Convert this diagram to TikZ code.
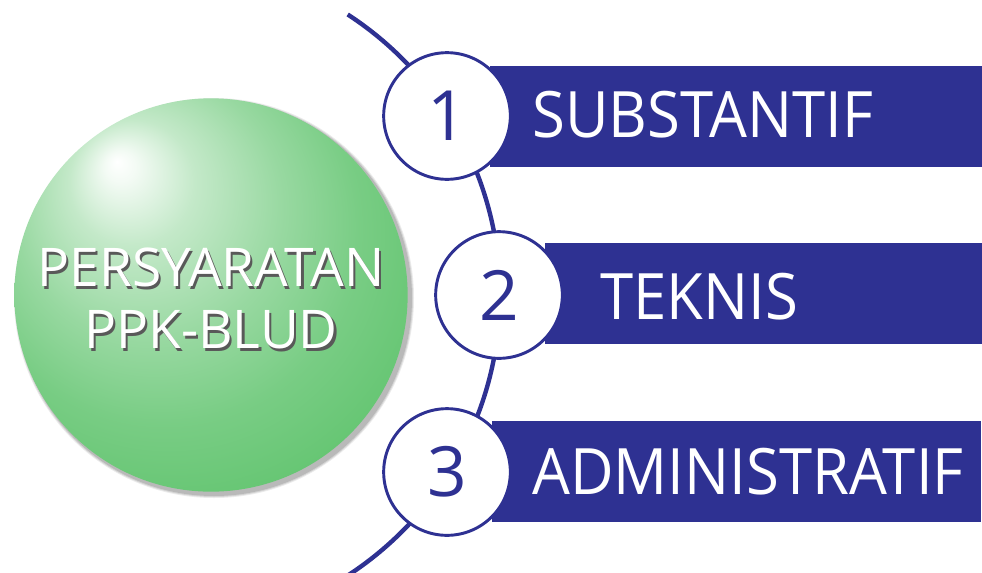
\documentclass[tikz,border=0pt]{standalone}
\usepackage{fontspec}
\setmainfont{Open Sans}
\newfontfamily\barfont[FakeStretch=0.935]{Open Sans}
\usepackage{tikz}
\usetikzlibrary{shadows}

\definecolor{bludblue}{HTML}{2E3192}
\definecolor{bludgreen}{HTML}{39B54A}
\pgfdeclareradialshading{greenball}{\pgfpoint{-12bp}{17bp}}{%
  color(0bp)=(white); color(2bp)=(bludgreen!6); color(8bp)=(bludgreen!30);
  color(17bp)=(bludgreen!52); color(25bp)=(bludgreen!68); color(40bp)=(bludgreen!86);
  color(50bp)=(bludgreen)}
\newcommand{\shadowed}[1]{\leavevmode\rlap{\kern1.6pt\raisebox{-1.6pt}{\textcolor{black!65}{#1}}}#1}

\begin{document}
\begin{tikzpicture}[x=0.75pt, y=-0.75pt,
    ball/.style={circle, minimum size=295pt, inner sep=0pt, shading=greenball},
    balltext/.style={align=center, text=white, inner sep=0pt,
      font=\fontsize{40}{46.5}\selectfont},
    arcline/.style={draw=bludblue, line width=3.3pt},
    bar/.style={fill=bludblue, inner sep=0pt, minimum height=75.75pt},
    num/.style={circle, draw=bludblue, fill=white, line width=2.2pt, minimum size=95pt,
      inner sep=0pt, text=bludblue, font=\fontsize{52}{60}\selectfont},
    bartext/.style={anchor=base west, inner sep=0pt, text=white,
      font=\barfont\fontsize{48}{56}\selectfont}]
  \useasboundingbox (0,0) rectangle (982,572);

  % soft shadow under the ball
  \foreach \r/\o in {200/0.08, 199/0.1, 198/0.12}
    \fill[black, opacity=\o] (214,298) circle (\r);
  \node[ball] (ball) at (211,295) {};
  \node[balltext] (title) at (211,300) {\shadowed{PERSYARATAN}\\ \shadowed{PPK-BLUD}};

  \coordinate (hub) at (165.5,295);
  \draw[arcline] (hub) ++(-57:334.5) arc[start angle=-57, end angle=58, radius=334.5];

  \node[bar, minimum width=369pt] (bar1) at (736,116.5) {};
  \node[bar, minimum width=327.75pt] (bar2) at (763.5,293.5) {};
  \node[bar, minimum width=366.75pt] (bar3) at (736.5,471.5) {};

  \node[num] (n1) at (447,116) {1};
  \node[num] (n2) at (499,295) {2};
  \node[num] (n3) at (447,472) {3};

  \node[bartext] (t1) at (532,137) {SUBSTANTIF};
  \node[bartext] (t2) at (600,319) {TEKNIS};
  \node[bartext] (t3) at (532,494) {ADMINISTRATIF};
\end{tikzpicture}
\end{document}
